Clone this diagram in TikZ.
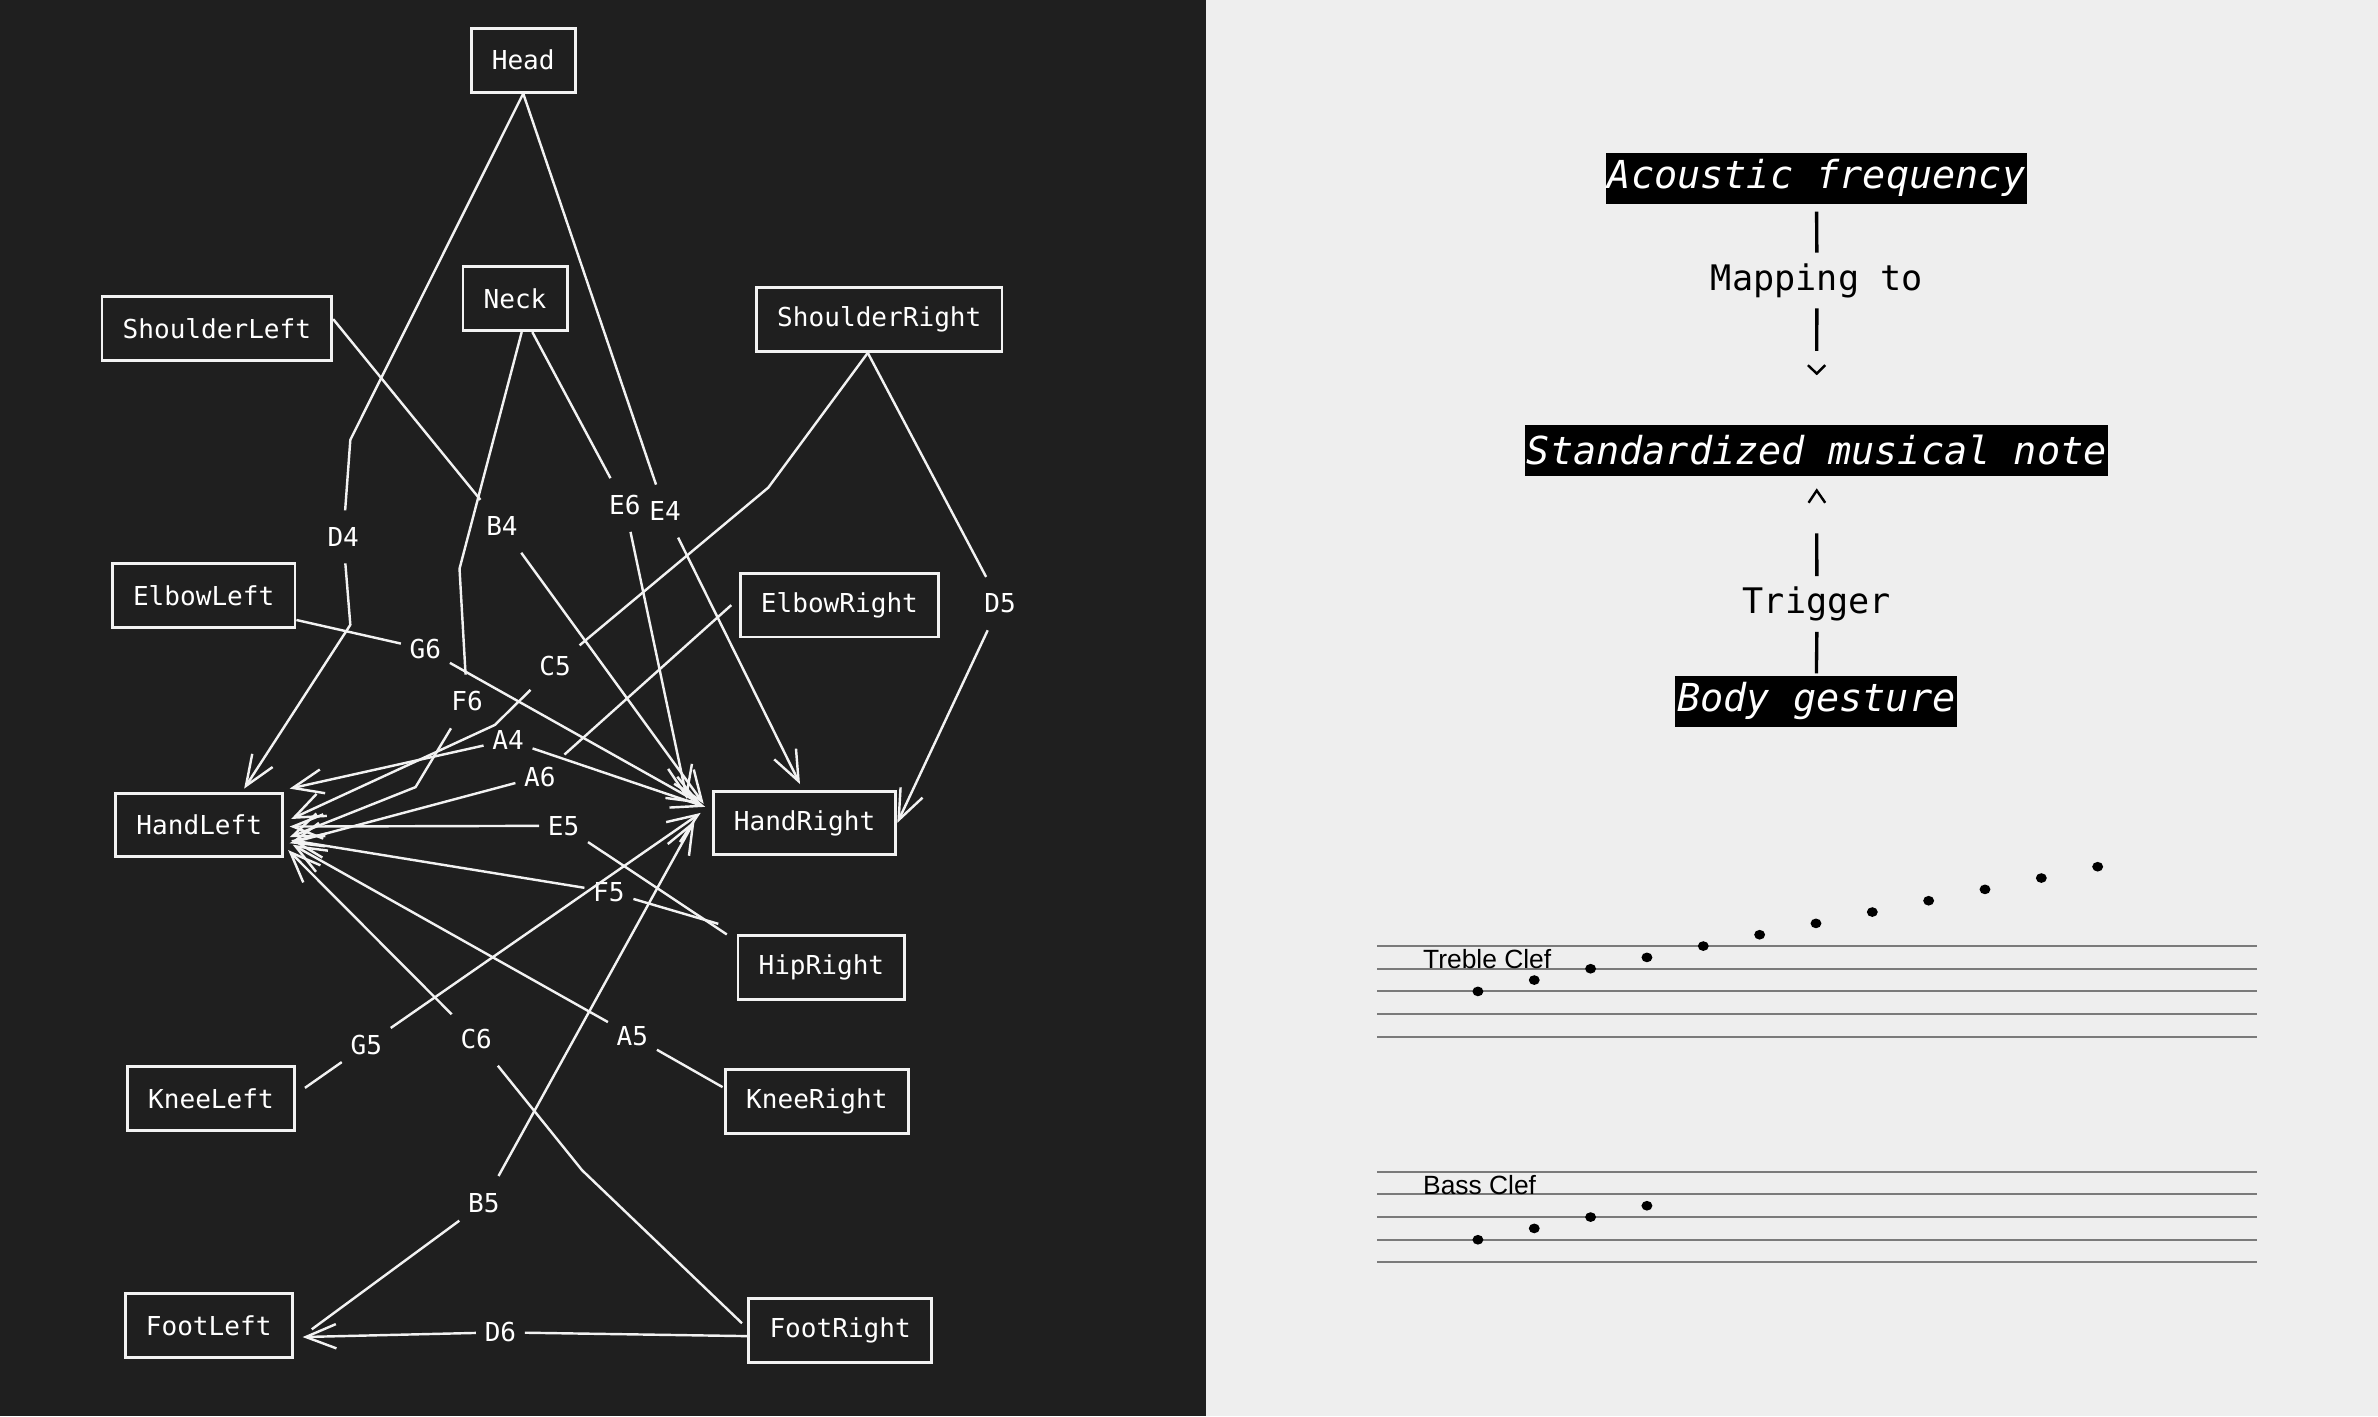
\documentclass[tikz,border=0pt]{standalone}
\usepackage{fontspec}
\usetikzlibrary{arrows.meta}
\newfontfamily\dvm{DejaVu Sans Mono}
\newfontfamily\lsans{Liberation Sans}
\definecolor{darkbg}{HTML}{1F1F1F}
\definecolor{lightbg}{HTML}{EEEEEE}
\definecolor{edgecol}{HTML}{F2F2F2}
\definecolor{staffcol}{HTML}{7A7A7A}
\begin{document}
\begin{tikzpicture}[x=0.5pt,y=-0.5pt,
  body/.style={draw=edgecol, line width=0.95pt, text=white, font=\dvm\fontsize{8.6}{10}\selectfont,
    minimum height=21pt, inner xsep=6.8pt, inner ysep=0pt},
  elabel/.style={text=white, font=\dvm\fontsize{8.6}{10}\selectfont, inner xsep=2.7pt, inner ysep=5.4pt},
  edge/.style={draw=edgecol, line width=0.8pt, line join=round},
  tip/.style={edge, -{Straight Barb[length=10pt,width=8pt]}},
  blk/.style={fill=black, text=white, font=\dvm\itshape\fontsize{12.7}{15}\selectfont,
    inner xsep=0.6pt, inner ysep=0pt, minimum height=16.7pt},
  rlabel/.style={text=black, font=\dvm\fontsize{11.6}{14}\selectfont, inner sep=0pt, minimum height=18pt},
  rline/.style={draw=black, line width=1.1pt},
  chev/.style={draw=black, line width=0.8pt},
  staff/.style={draw=staffcol, line width=0.7pt},
  clef/.style={anchor=base west, inner sep=0pt, text=black, font=\lsans\fontsize{8.7}{10}\selectfont}]

\useasboundingbox (0,0) rectangle (1568,933.7);
\fill[darkbg] (0,0) rectangle (795,933.7);
\fill[lightbg] (795,0) rectangle (1568,933.7);

% ---------- body nodes ----------
\node[body] (Head) at (345,39.7) {Head};
\node[body] (Neck) at (339.6,197) {Neck};
\node[body] (ShoulderLeft) at (143,216.6) {ShoulderLeft};
\node[body] (ShoulderRight) at (579.8,210.7) {ShoulderRight};
\node[body] (ElbowLeft) at (134.3,392.6) {ElbowLeft};
\node[body] (ElbowRight) at (553.5,399) {ElbowRight};
\node[body] (HandLeft) at (131.4,544) {HandLeft};
\node[body] (HandRight) at (530.5,542.6) {HandRight};
\node[body] (HipRight) at (541.6,638.1) {HipRight};
\node[body] (KneeLeft) at (139.1,724.3) {KneeLeft};
\node[body] (KneeRight) at (538.6,726.4) {KneeRight};
\node[body] (FootLeft) at (137.6,874.1) {FootLeft};
\node[body] (FootRight) at (554,877.3) {FootRight};

% ---------- edge labels ----------
\node[elabel] (lD4) at (226.3,354) {D4};
\node[elabel] (lE4) at (438.5,337) {E4};
\node[elabel] (lE6) at (412,333) {E6};
\node[elabel] (lB4) at (331,347) {B4};
\node[elabel] (lD5) at (659.5,398) {D5};
\node[elabel] (lC5) at (366,439) {C5};
\node[elabel] (lG6) at (280.5,428) {G6};
\node[elabel] (lF6) at (308,462.5) {F6};
\node[elabel] (lA4) at (335,488) {A4};
\node[elabel] (lA6) at (356,512) {A6};
\node[elabel] (lE5) at (371.6,544.5) {E5};
\node[elabel] (lF5) at (401.5,588) {F5};
\node[elabel] (lG5) at (241.5,689) {G5};
\node[elabel] (lC6) at (314,685) {C6};
\node[elabel] (lA5) at (417,683) {A5};
\node[elabel] (lB5) at (319,793) {B5};
\node[elabel] (lD6) at (330,878.5) {D6};

% ---------- arrow tips / bends ----------
\coordinate (tD4) at (161,520);
\coordinate (tE4) at (527.5,517);
\coordinate (tE6) at (453,527);
\coordinate (tF6) at (191,552);
\coordinate (tB4) at (464,530);
\coordinate (tC5) at (192,540);
\coordinate (tG6) at (462,530);
\coordinate (tA6) at (191,556);
\coordinate (tE5) at (191,545);
\coordinate (tF5) at (192,554);
\coordinate (tG5) at (462,536);
\coordinate (tC6) at (190,560.5);
\coordinate (tA5) at (193,557);
\coordinate (tB5) at (458,541);
\coordinate (tD6) at (199.5,881.6);
\coordinate (tA4l) at (191,520);
\coordinate (tA4r) at (465,532);
\coordinate (bD4a) at (231,290);
\coordinate (bD4b) at (231,412);
\coordinate (bF6a) at (303,375);
\coordinate (bF6b) at (274,519);
\coordinate (bC5a) at (506.6,321.5);
\coordinate (bC5b) at (326.3,478);
\coordinate (bC6) at (383.8,771.6);

% ---------- edges ----------
\draw[edge] (Head.south) -- (bD4a) -- (lD4);
\draw[tip] (lD4) -- (bD4b) -- (tD4);

\draw[edge] (Head.south) -- (lE4);
\draw[tip] (lE4) -- (tE4);

\draw[edge] ([xshift=5.7pt]Neck.south) -- (lE6);
\draw[tip] (lE6) -- (tE6);

\draw[edge] ([xshift=2.2pt]Neck.south) -- (bF6a) -- (lF6);
\draw[tip] (lF6) -- (bF6b) -- (tF6);

\draw[edge] ([yshift=3.1pt]ShoulderLeft.east) -- (lB4);
\draw[tip] (lB4) -- (tB4);

\draw[edge] ([xshift=-3.8pt]ShoulderRight.south) -- (lD5);
\draw[tip] (lD5) -- (HandRight.east);

\draw[edge] ([xshift=-3.8pt]ShoulderRight.south) -- (bC5a) -- (lC5);
\draw[tip] (lC5) -- (bC5b) -- (tC5);

\draw[edge] ([yshift=-8.1pt]ElbowLeft.east) -- (lG6);
\draw[tip] (lG6) -- (tG6);

\draw[edge] ([xshift=-2.5pt]ElbowRight.west) -- (lA6);
\draw[tip] (lA6) -- (tA6);

\draw[tip] (lA4) -- (tA4l);
\draw[tip] (lA4) -- (tA4r);

\draw[edge] ([xshift=-3.2pt]HipRight.north west) -- (lE5);
\draw[tip] (lE5) -- (tE5);

\draw[edge] ([xshift=-6pt,yshift=3.5pt]HipRight.north west) -- (lF5);
\draw[tip] (lF5) -- (tF5);

\draw[edge] ([xshift=3pt,yshift=3.5pt]KneeLeft.east) -- (lG5);
\draw[tip] (lG5) -- (tG5);

\draw[edge] ([xshift=-1.8pt,yshift=2.4pt]FootRight.west) -- (bC6) -- (lC6);
\draw[tip] (lC6) -- (tC6);

\draw[edge] ([xshift=-0.5pt,yshift=4.8pt]KneeRight.west) -- (lA5);
\draw[tip] (lA5) -- (tA5);

\draw[edge] ([xshift=6pt,yshift=-1.2pt]FootLeft.east) -- (lB5);
\draw[tip] (lB5) -- (tB5);

\draw[edge] ([yshift=-1.85pt]FootRight.west) -- (lD6);
\draw[tip] (lD6) -- (tD6);

% ---------- right flow ----------
\node[blk] (Acoustic) at (1197.8,117.5) {Acoustic frequency};
\node[blk] (Std) at (1197.9,296.9) {Standardized musical note};
\node[blk] (Body) at (1197.7,462.4) {Body gesture};
\node[rlabel] (Map) at (1198,185) {Mapping to};
\node[rlabel] (Trig) at (1198,398.3) {Trigger};

\draw[rline] ([yshift=-2.5pt]Acoustic.south) -- (Map.north);
\draw[rline] (Map.south) -- ([yshift=24.25pt]Std.north);
\draw[chev] ([shift={(-2.9pt,19.5pt)}]Std.north) -- ([yshift=16.75pt]Std.north) -- ([shift={(2.8pt,19.5pt)}]Std.north);
\draw[chev] ([shift={(-2.7pt,-8.75pt)}]Std.south) -- ([yshift=-4.7pt]Std.south) -- ([shift={(2.8pt,-8.75pt)}]Std.south);
\draw[rline] ([yshift=-18.85pt]Std.south) -- (Trig.north);
\draw[rline] (Trig.south) -- ([yshift=0.65pt]Body.north);

% ---------- staves ----------
\foreach \i in {0,...,4} {
  \draw[staff] (908,{623.8+14.95*\i}) -- (1488,{623.8+14.95*\i});
  \draw[staff] (908,{772.6+14.95*\i}) -- (1488,{772.6+14.95*\i});
}
\node[clef] (treble) at (938,638.5) {Treble Clef};
\node[clef] (bass) at (938,787.5) {Bass Clef};
\foreach \i in {0,...,11} {
  \fill[black] ({974.5+37.15*\i},{653.7-7.475*\i}) ellipse [x radius=1.8pt, y radius=1.6pt];
}
\foreach \i in {0,...,3} {
  \fill[black] ({974.5+37.15*\i},{817.45-7.475*\i}) ellipse [x radius=1.8pt, y radius=1.6pt];
}
\end{tikzpicture}
\end{document}
